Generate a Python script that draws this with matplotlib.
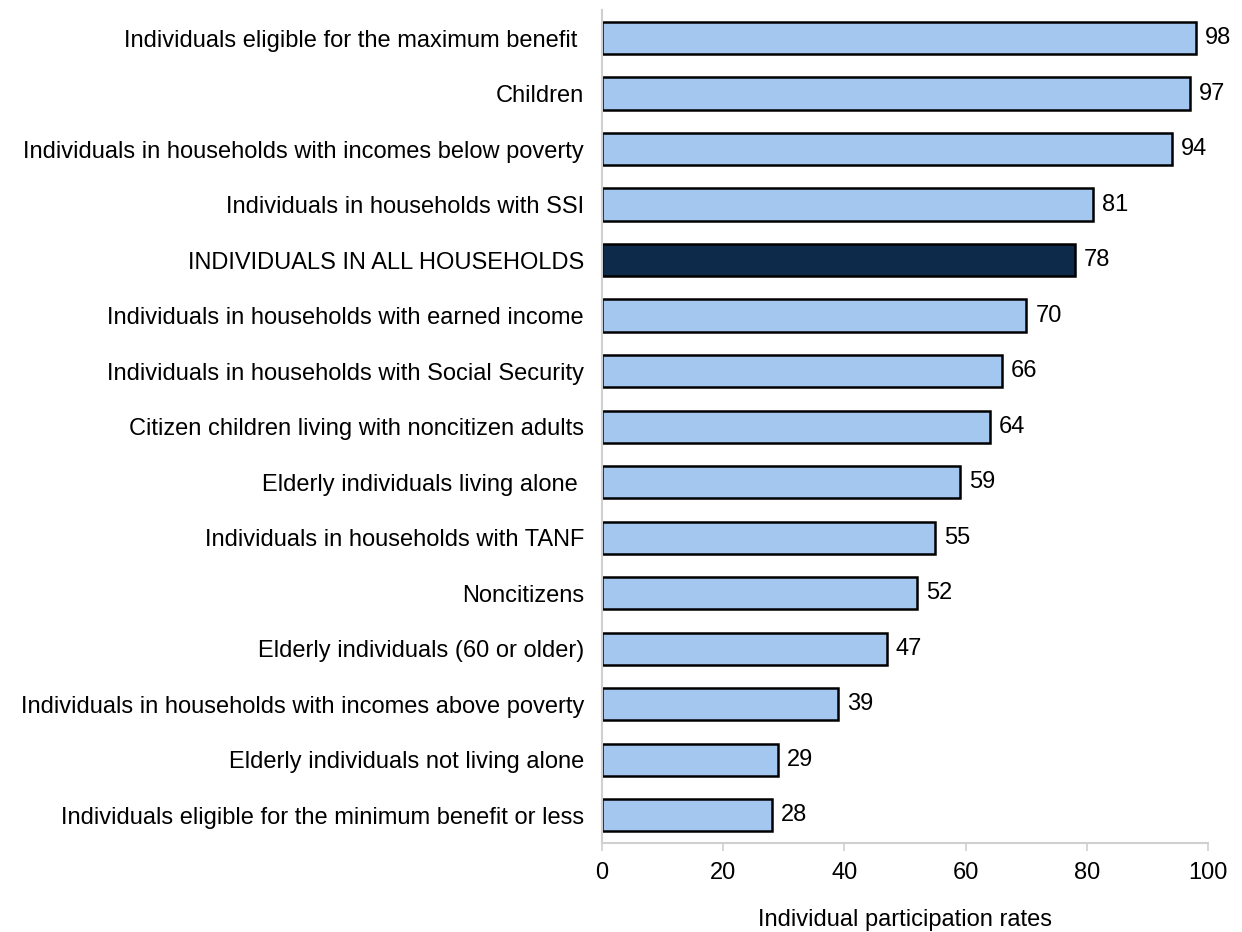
import matplotlib.pyplot as plt
import numpy as np

plt.rcParams['font.family'] = ['Liberation Sans', 'DejaVu Sans']

# Categories (top to bottom) and participation rates
categories = [
    "Individuals eligible for the maximum benefit ",
    "Children",
    "Individuals in households with incomes below poverty",
    "Individuals in households with SSI",
    "INDIVIDUALS IN ALL HOUSEHOLDS",
    "Individuals in households with earned income",
    "Individuals in households with Social Security",
    "Citizen children living with noncitizen adults",
    "Elderly individuals living alone ",
    "Individuals in households with TANF",
    "Noncitizens",
    "Elderly individuals (60 or older)",
    "Individuals in households with incomes above poverty",
    "Elderly individuals not living alone",
    "Individuals eligible for the minimum benefit or less",
]
rates = [98, 97, 94, 81, 78, 70, 66, 64, 59, 55, 52, 47, 39, 29, 28]
highlight = "INDIVIDUALS IN ALL HOUSEHOLDS"

light = "#A3C7EF"
dark = "#0D2A4A"
fs = 17

fig = plt.figure(figsize=(12.42, 9.32), dpi=100)
ax = fig.add_axes([0.4847, 0.0955, 0.4879, 0.8935])

y = np.arange(len(categories))
colors = [dark if c == highlight else light for c in categories]
bars = ax.barh(y, rates, height=0.58, color=colors, edgecolor="black", linewidth=1.8)

for b, v in zip(bars, rates):
    ax.text(b.get_width() + 1.5, b.get_y() + b.get_height() / 2, str(v),
            va="center", ha="left", fontsize=fs)

ax.set_yticks(y)
ax.set_yticklabels(categories, fontsize=fs)
ax.set_ylim(len(categories) - 0.5, -0.5)
ax.set_xlim(0, 100)
ax.set_xticks([0, 20, 40, 60, 80, 100])
ax.tick_params(axis="x", labelsize=fs, length=6, color="#D0D0D0", width=1.2, pad=8)
ax.tick_params(axis="y", length=0, pad=13)

for s in ["top", "right"]:
    ax.spines[s].set_visible(False)
ax.spines["left"].set_color("#D0D0D0")
ax.spines["bottom"].set_color("#D0D0D0")
ax.spines["left"].set_linewidth(1.5)
ax.spines["bottom"].set_linewidth(1.5)

ax.set_xlabel("Individual participation rates", fontsize=fs, labelpad=18)

fig.savefig("out.png", dpi=100)
